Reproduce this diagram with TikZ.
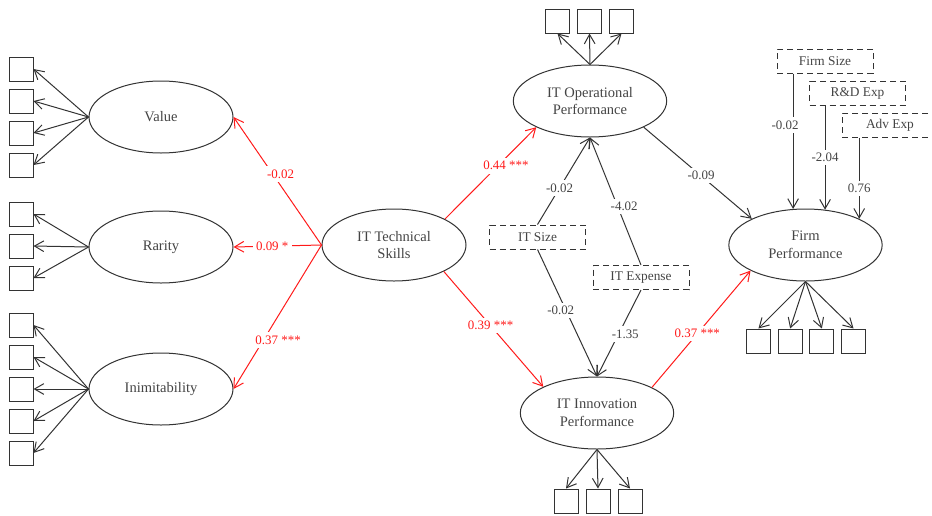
\documentclass[tikz,border=0pt]{standalone}
\usepackage{fontspec}
\setmainfont{Liberation Serif}
\usetikzlibrary{shapes.geometric,arrows.meta}
\definecolor{line}{HTML}{333333}
\definecolor{txt}{HTML}{444444}
\definecolor{hot}{HTML}{FF1A1A}
\begin{document}
\begin{tikzpicture}[
x=0.75pt, y=-0.75pt, line width=0.75pt,
>={Straight Barb[length=7pt,width=8pt]},
lat/.style={ellipse, draw=line, text=txt, align=center, inner sep=0pt,
  minimum width=108pt, minimum height=54pt,
  font=\fontsize{10.9}{13.3}\selectfont},
latw/.style={lat, minimum width=115pt},
ind/.style={draw=line, minimum size=18pt, inner sep=0pt},
ctrl/.style={draw=line, dash pattern=on 4.5pt off 3pt, text=txt,
  minimum width=72pt, minimum height=18pt, inner sep=0pt,
  font=\fontsize{10}{12}\selectfont},
lbl/.style={fill=white, text=txt, inner sep=2.5pt,
  font=\fontsize{9.7}{11}\selectfont},
rlbl/.style={lbl, text=hot},
arr/.style={->, draw=line},
rarr/.style={->, draw=hot}
]
\clip (0,0) rectangle (932,515);

% latent variables
\node[lat] (val) at (161,117) {Value};
\node[lat] (rar) at (161,247) {Rarity};
\node[lat] (inim) at (161,389) {Inimitability};
\node[lat] (tech) at (394,245) {IT Technical\\Skills};
\node[latw] (op) at (590,101) {IT Operational\\Performance};
\node[latw] (inn) at (597,413) {IT Innovation\\Performance};
\node[latw] (fp) at (805.5,245) {Firm\\Performance};

% control variables
\node[ctrl] (its) at (537.5,237) {IT Size};
\node[ctrl] (ite) at (641,277.5) {IT Expense};
\node[ctrl] (fs) at (825,61) {Firm Size};
\node[ctrl] (rd) at (857.5,93) {R\&D Exp};
\node[ctrl] (adv) at (890,125) {Adv Exp};

% indicators
\foreach \i in {1,...,4} {
  \node[ind] (v\i) at (21,{117+32*(\i-2.5)}) {};
  \draw[arr] (val.west) -- (v\i.east);
}
\foreach \i in {1,...,3} {
  \node[ind] (r\i) at (21,{246+32*(\i-2)}) {};
  \draw[arr] (rar.west) -- (r\i.east);
}
\foreach \i in {1,...,5} {
  \node[ind] (m\i) at (21,{389+32*(\i-3)}) {};
  \draw[arr] (inim.west) -- (m\i.east);
}
\foreach \i in {1,...,3} {
  \node[ind] (o\i) at ({589.5+32*(\i-2)},21) {};
  \draw[arr] (op.north) -- (o\i.south);
  \node[ind] (n\i) at ({598+32*(\i-2)},501) {};
  \draw[arr] (inn.south) -- (n\i.north);
}
\foreach \i in {1,...,4} {
  \node[ind] (f\i) at ({806+31.7*(\i-2.5)},341) {};
  \draw[arr] (fp.south) -- (f\i.north);
}

% structural paths
\draw[rarr] (tech.west) -- node[rlbl, pos=.556, xshift=6pt] {-0.02} (val.east);
\draw[rarr] (tech.west) -- node[rlbl, pos=.56] {0.09 *} (rar.east);
\draw[rarr] (tech.west) -- node[rlbl, pos=.66, xshift=11pt] {0.37 ***} (inim.east);
\draw[rarr] (tech.27.5) -- node[rlbl, pos=.58, xshift=6pt] {0.44 ***} (op.206);
\draw[rarr] (tech.332) -- node[rlbl, pos=.47] {0.39 ***} (inn.154);
\draw[rarr] (inn.25) -- node[rlbl, pos=.46] {0.37 ***} (fp.205);
\draw[arr] (op.334) -- node[lbl, pos=.53] {-0.09} (fp.154);

% controls
\draw[arr] (its.north) -- node[lbl, pos=.42] {-0.02} (op.south);
\draw[arr] (ite.north) -- node[lbl, pos=.46, xshift=5pt] {-4.02} (op.south);
\draw[arr] (its.south) -- node[lbl, pos=.48, xshift=-4pt] {-0.02} (inn.north);
\draw[arr] (ite.south) -- node[lbl, pos=.51, xshift=5pt] {-1.35} (inn.north);
\draw[arr] (fp.109 |- fs.south) -- node[lbl, pos=.38, xshift=-6pt] {-0.02} (fp.109);
\draw[arr] (fp.61 |- rd.south) -- node[lbl, pos=.5] {-2.04} (fp.61);
\draw[arr] (fp.26 |- adv.south) -- node[lbl, pos=.63] {0.76} (fp.26);
\end{tikzpicture}
\end{document}
